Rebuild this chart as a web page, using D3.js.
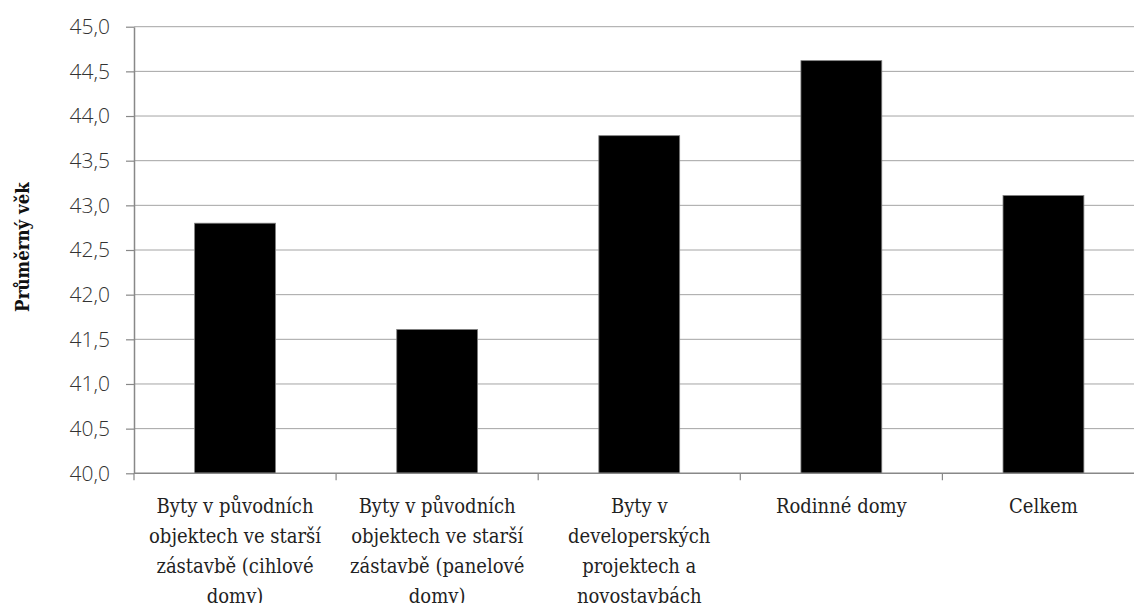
<!DOCTYPE html>
<html>
<head>
<meta charset="utf-8">
<script src="https://cdn.jsdelivr.net/npm/d3@7"></script>
<style>
  html, body { margin: 0; padding: 0; background: #fff; }
  svg { display: block; }
</style>
</head>
<body>
<svg id="chart" width="1134" height="603"></svg>
<script>
// Average age of owners by housing type
const categories = [
  "Byty v původních objektech ve starší zástavbě (cihlové domy)",
  "Byty v původních objektech ve starší zástavbě (panelové domy)",
  "Byty v developerských projektech a novostavbách",
  "Rodinné domy",
  "Celkem"
];
const values = [42.80, 41.61, 43.78, 44.62, 43.11];
const yTicks = [40.0, 40.5, 41.0, 41.5, 42.0, 42.5, 43.0, 43.5, 44.0, 44.5, 45.0];
const yDomain = [40, 45];
const yTitle = "Průměrný věk";

const svg = d3.select("#chart");
const plotLeft = 134, plotRight = 1144.5, plotTop = 26.7, plotBottom = 473.3;

const x = d3.scaleBand()
  .domain(categories)
  .range([plotLeft, plotRight])
  .paddingInner(0.6)
  .paddingOuter(0.3);

const y = d3.scaleLinear().domain(yDomain).range([plotBottom, plotTop]);

const fmt = v => d3.format(".1f")(v).replace(".", ",");

// Horizontal gridlines
svg.append("g")
  .selectAll("line")
  .data(yTicks.filter(t => t !== yDomain[0]))
  .join("line")
  .attr("x1", plotLeft).attr("x2", plotRight)
  .attr("y1", d => y(d)).attr("y2", d => y(d))
  .attr("stroke", "#a4a4a4")
  .attr("stroke-width", 1);

// Bars
svg.append("g")
  .selectAll("rect")
  .data(values)
  .join("rect")
  .attr("x", (d, i) => x(categories[i]))
  .attr("width", x.bandwidth())
  .attr("y", d => y(d))
  .attr("height", d => y(yDomain[0]) - y(d))
  .attr("fill", "#000")
  .attr("stroke", "#7f7f7f")
  .attr("stroke-width", 0.8);

// Y axis
const yAxis = d3.axisLeft(y)
  .tickValues(yTicks)
  .tickFormat(fmt)
  .tickSize(8)
  .tickPadding(16)
  .tickSizeOuter(0);

const gy = svg.append("g")
  .attr("transform", `translate(${plotLeft},0)`)
  .call(yAxis);
gy.select(".domain").attr("stroke", "#888").attr("stroke-width", 1.5);
gy.selectAll(".tick line").attr("stroke", "#888").attr("stroke-width", 1.2);
gy.selectAll(".tick text")
  .attr("fill", "#333")
  .style("font-family", "'Open Sans', sans-serif")
  .style("font-weight", 300)
  .style("font-size", "21px");

// X axis: line along the bottom and ticks on band boundaries
const gx = svg.append("g");
gx.append("line")
  .attr("x1", plotLeft).attr("x2", plotRight)
  .attr("y1", plotBottom).attr("y2", plotBottom)
  .attr("stroke", "#888").attr("stroke-width", 1.5);

const boundaries = categories.map(c => x(c) - x.step() * x.paddingOuter());
boundaries.push(plotRight);
gx.selectAll("line.tk")
  .data(boundaries)
  .join("line")
  .attr("class", "tk")
  .attr("x1", d => d).attr("x2", d => d)
  .attr("y1", plotBottom).attr("y2", plotBottom + 7)
  .attr("stroke", "#888").attr("stroke-width", 1.2);

// Category labels, wrapped to the band width
const labelFont = "'DejaVu Serif Condensed', 'DejaVu Serif', serif";
const labelSize = 20;
const lineH = 30;
const maxW = x.step() * 0.92;

const measurer = svg.append("text")
  .style("font-family", labelFont)
  .style("font-size", labelSize + "px")
  .attr("visibility", "hidden");
function textWidth(s) { measurer.text(s); return measurer.node().getComputedTextLength(); }

function wrap(s) {
  const words = s.split(" ");
  const lines = [];
  let cur = "";
  for (const w of words) {
    const test = cur ? cur + " " + w : w;
    if (cur && textWidth(test) > maxW) { lines.push(cur); cur = w; }
    else cur = test;
  }
  if (cur) lines.push(cur);
  return lines;
}

const labels = svg.append("g")
  .selectAll("text")
  .data(categories)
  .join("text")
  .attr("x", d => x(d) + x.bandwidth() / 2)
  .attr("y", 513)
  .attr("text-anchor", "middle")
  .attr("fill", "#222")
  .style("font-family", labelFont)
  .style("font-size", labelSize + "px");

labels.each(function(d) {
  const t = d3.select(this);
  const cx = x(d) + x.bandwidth() / 2;
  wrap(d).forEach((ln, i) => {
    t.append("tspan").attr("x", cx).attr("dy", i === 0 ? 0 : lineH).text(ln);
  });
});
measurer.remove();

// Y axis title
svg.append("text")
  .attr("transform", `translate(29,247) rotate(-90)`)
  .attr("text-anchor", "middle")
  .attr("fill", "#111")
  .style("font-family", labelFont)
  .style("font-weight", "bold")
  .style("font-size", "18.5px")
  .text(yTitle);
</script>
</body>
</html>
